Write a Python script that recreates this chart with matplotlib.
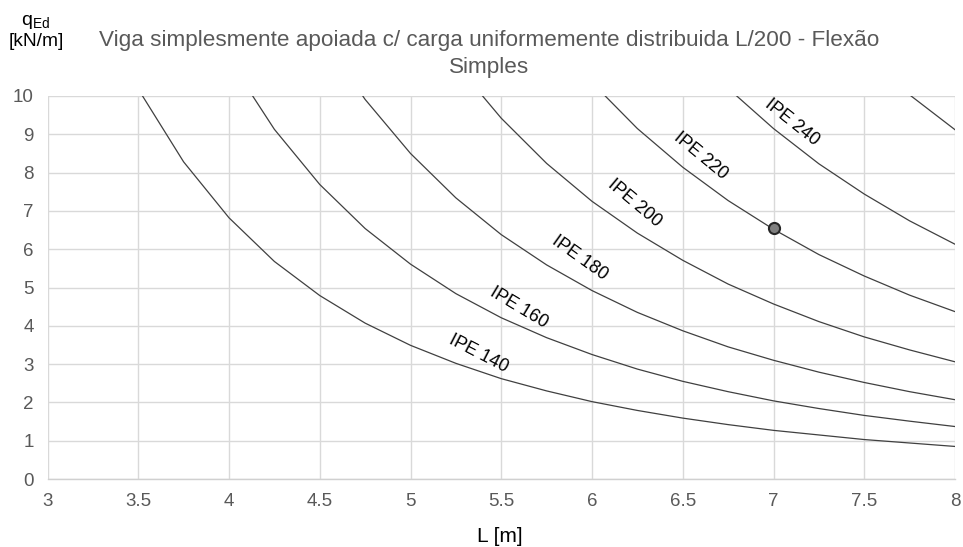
import matplotlib
matplotlib.use("Agg")
import matplotlib.pyplot as plt

plt.rcParams["font.family"] = ["Liberation Sans", "DejaVu Sans"]
plt.rcParams["mathtext.fontset"] = "custom"
plt.rcParams["mathtext.rm"] = "Liberation Sans"
plt.rcParams["mathtext.it"] = "Liberation Sans:italic"

# span L [m], sampled every 0.25 m; each profile uses the tail of this list
L_VALUES = [3.5, 3.75, 4.0, 4.25, 4.5, 4.75, 5.0, 5.25, 5.5, 5.75, 6.0,
            6.25, 6.5, 6.75, 7.0, 7.25, 7.5, 7.75, 8.0]

# admissible q_Ed [kN/m] per profile
q_ipe140 = [10.18, 8.28, 6.82, 5.68, 4.79, 4.07, 3.49, 3.02, 2.62, 2.30,
            2.02, 1.79, 1.59, 1.42, 1.27, 1.15, 1.03, 0.94, 0.85]
q_ipe160 = [10.95, 9.13, 7.69, 6.54, 5.61, 4.84, 4.21, 3.69, 3.25, 2.87,
            2.55, 2.28, 2.04, 1.84, 1.66, 1.51, 1.37]
q_ipe180 = [11.65, 9.91, 8.50, 7.34, 6.38, 5.59, 4.92, 4.35, 3.87, 3.45,
            3.10, 2.79, 2.52, 2.28, 2.07]
q_ipe200 = [10.83, 9.42, 8.24, 7.25, 6.42, 5.71, 5.09, 4.57, 4.11, 3.71,
            3.37, 3.06]
q_ipe220 = [10.35, 9.15, 8.14, 7.27, 6.52, 5.86, 5.30, 4.80, 4.37]
q_ipe240 = [10.20, 9.15, 8.23, 7.44, 6.74, 6.13]
q_ipe270 = [10.03, 9.12]

PROFILES = ["IPE 140", "IPE 160", "IPE 180", "IPE 200", "IPE 220", "IPE 240", "IPE 270"]
SERIES = [q_ipe140, q_ipe160, q_ipe180, q_ipe200, q_ipe220, q_ipe240, q_ipe270]

# design point marked on the IPE 220 curve
point_L = [7.0]
point_q = [6.56]

# in-line label placement (x, y, rotation); IPE 270 has no label
label_pos = {"IPE 140": (5.376, 3.26, -27.3),
             "IPE 160": (5.596, 4.46, -31.0),
             "IPE 180": (5.932, 5.77, -35.6),
             "IPE 200": (6.235, 7.21, -40.0),
             "IPE 220": (6.598, 8.43, -39.5),
             "IPE 240": (7.099, 9.30, -38.5)}

W, H = 963, 547
fig = plt.figure(figsize=(W / 100, H / 100), dpi=100)
ax = fig.add_axes([47.5 / W, 1 - 479 / H, (955 - 47.5) / W, (479 - 96) / H])

for name, q in zip(PROFILES, SERIES):
    ax.plot(L_VALUES[-len(q):], q, color="#404040", lw=0.9, zorder=3)
    if name in label_pos:
        x, y, rot = label_pos[name]
        ax.text(x, y, name, rotation=rot, rotation_mode="anchor",
                ha="center", va="center", fontsize=13, color="black", zorder=4)

ax.plot(point_L, point_q, "o", ms=8, mfc="#7f7f7f", mec="#262626", mew=1.5, zorder=5)

ax.set_xlim(3, 8)
ax.set_ylim(0, 10)
ax.set_xticks([3, 3.5, 4, 4.5, 5, 5.5, 6, 6.5, 7, 7.5, 8])
ax.set_xticklabels(["3", "3.5", "4", "4.5", "5", "5.5", "6", "6.5", "7", "7.5", "8"])
ax.set_yticks(range(0, 11))
ax.tick_params(length=0, labelsize=13.5, labelcolor="#595959", pad=10)
ax.grid(True, color="#d9d9d9", lw=1.0)
ax.set_axisbelow(True)
for side in ("top", "right", "left"):
    ax.spines[side].set_visible(False)
ax.spines["bottom"].set_color("#d0d0d0")
ax.spines["bottom"].set_linewidth(1.0)

# two-line chart title, centred a little left of the plot centre
fig.text(489 / W, 1 - 46 / H,
         "Viga simplesmente apoiada c/ carga uniformemente distribuida L/200 - Flexão",
         ha="center", va="baseline", fontsize=16.2, color="#595959")
fig.text(489 / W, 1 - 73 / H, "Simples",
         ha="center", va="baseline", fontsize=16.2, color="#595959")

fig.text(35 / W, 1 - 25 / H, r"q$_{\mathrm{Ed}}$", ha="center", va="baseline",
         fontsize=14, color="black")
fig.text(36 / W, 1 - 46 / H, "[kN/m]", ha="center", va="baseline",
         fontsize=13.8, color="black")
fig.text(500 / W, 1 - 537 / H, "L [m]", ha="center", va="center",
         fontsize=15, color="black")

fig.savefig("out.png", dpi=100)
